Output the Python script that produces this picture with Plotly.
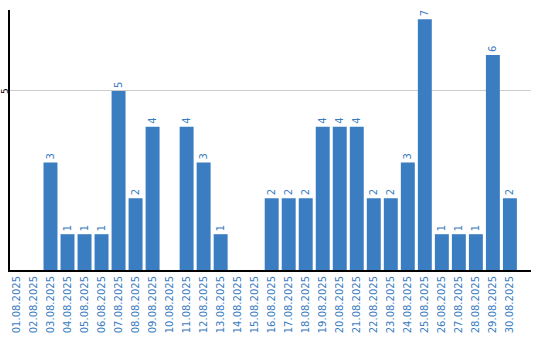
import plotly.graph_objects as go

dates = ["01.08.2025", "02.08.2025", "03.08.2025", "04.08.2025", "05.08.2025",
         "06.08.2025", "07.08.2025", "08.08.2025", "09.08.2025", "10.08.2025",
         "11.08.2025", "12.08.2025", "13.08.2025", "14.08.2025", "15.08.2025",
         "16.08.2025", "17.08.2025", "18.08.2025", "19.08.2025", "20.08.2025",
         "21.08.2025", "22.08.2025", "23.08.2025", "24.08.2025", "25.08.2025",
         "26.08.2025", "27.08.2025", "28.08.2025", "29.08.2025", "30.08.2025"]
counts = [0, 0, 3, 1, 1, 1, 5, 2, 4, 0,
          4, 3, 1, 0, 0, 2, 2, 2, 4, 4,
          4, 2, 2, 3, 7, 1, 1, 1, 6, 2]
y_ticks = [5]

bar_color = "#3b7dc1"
text_color = "#3a7cc0"

fig = go.Figure(go.Bar(
    x=dates, y=counts,
    marker=dict(color=bar_color, line=dict(width=0)),
    text=[str(v) if v else "" for v in counts],
    textposition="outside",
    textangle=-90,
    textfont=dict(family="DejaVu Sans", size=10, color=text_color),
    cliponaxis=False,
    constraintext="none",
    hoverinfo="skip",
))

fig.update_layout(
    width=540, height=340,
    margin=dict(l=10, r=9, t=10, b=70),
    paper_bgcolor="white", plot_bgcolor="white",
    bargap=0.18,
    showlegend=False,
    font=dict(family="DejaVu Sans", size=10),
)
fig.update_xaxes(
    type="category",
    range=[-0.38, 30.24],
    tickangle=-90,
    tickfont=dict(family="DejaVu Sans", size=10, color=text_color),
    showline=True, linecolor="black", linewidth=2,
    showgrid=False, ticks="", ticklen=0,
    automargin=False,
)
fig.update_yaxes(
    range=[0, 7.26],
    tickvals=y_ticks,
    showticklabels=False,
    showline=True, linecolor="black", linewidth=2,
    showgrid=True, gridcolor="#cccccc", gridwidth=1,
    zeroline=False, ticks="",
    automargin=False,
)
for t in y_ticks:
    fig.add_annotation(
        x=0, xref="paper", y=t, yref="y",
        text=str(t), showarrow=False, textangle=-90,
        xanchor="center", yanchor="middle", xshift=-5,
        font=dict(family="DejaVu Sans", size=9, color="black"),
    )

fig.write_html("out.html")
